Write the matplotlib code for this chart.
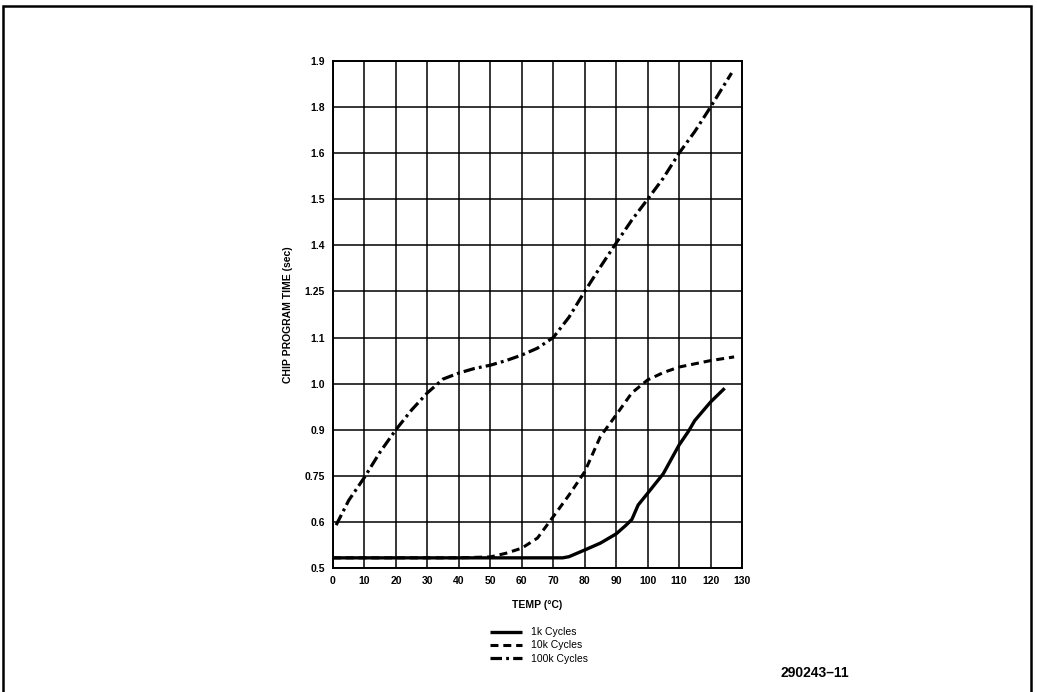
import numpy as np
import matplotlib
matplotlib.use("Agg")
import matplotlib.pyplot as plt
from matplotlib.patches import Rectangle

plt.rcParams['font.family'] = ['Liberation Sans', 'DejaVu Sans']

# y axis labels are evenly spaced, not linear
y_ticks = [0.5, 0.6, 0.75, 0.9, 1.0, 1.1, 1.25, 1.4, 1.5, 1.6, 1.8, 1.9]
x_ticks = list(range(0, 131, 10))

# 1k cycles
temp_1k = [0, 10, 20, 30, 40, 50, 60, 70, 73, 75, 80, 85, 90, 93, 95, 97, 100, 105, 110, 113, 115, 120, 124.5]
time_1k = [0.522, 0.522, 0.522, 0.522, 0.522, 0.522, 0.522, 0.522, 0.522, 0.5245, 0.539, 0.554, 0.574, 0.592,
           0.608, 0.655, 0.693, 0.757, 0.85, 0.895, 0.92, 0.96, 0.99]

# 10k cycles
temp_10k = [0, 10, 20, 30, 40, 50, 55, 60, 65, 70, 75, 80, 85, 90, 95, 100, 105, 110, 120, 127.5]
time_10k = [0.522, 0.522, 0.522, 0.522, 0.522, 0.524, 0.532, 0.543, 0.565, 0.617, 0.687, 0.763, 0.878, 0.932,
            0.98, 1.008, 1.024, 1.036, 1.05, 1.058]

# 100k cycles
temp_100k = [1, 5, 10, 15, 20, 25, 30, 35, 40, 45, 50, 55, 60, 65, 70, 75, 80, 85, 90, 95, 100, 105, 110, 115,
             120, 126.7]
time_100k = [0.593, 0.67, 0.745, 0.828, 0.9, 0.943, 0.98, 1.01, 1.023, 1.033, 1.04, 1.05, 1.062, 1.077, 1.1,
             1.166, 1.25, 1.33, 1.405, 1.455, 1.5, 1.546, 1.6, 1.694, 1.8, 1.874]

idx = np.arange(len(y_ticks))


def fwd(v):
    return np.interp(v, y_ticks, idx)


def inv(p):
    return np.interp(p, idx, y_ticks)


fig = plt.figure(figsize=(10.37, 6.92), dpi=100)
ax = fig.add_axes([0.3211, 0.1792, 0.3944, 0.7326])
ax.set_yscale('function', functions=(fwd, inv))

ax.plot(temp_1k, time_1k, color='black', lw=2.4, solid_capstyle='butt', label='1k Cycles')
ax.plot(temp_10k, time_10k, color='black', lw=2.2, linestyle=(0, (2.6, 1.6)), label='10k Cycles')
ax.plot(temp_100k, time_100k, color='black', lw=2.3, linestyle=(0, (3.6, 1.3, 0.9, 1.3)), label='100k Cycles')

ax.set_xlim(0, 130)
ax.set_ylim(0.5, 1.9)
ax.set_xticks(x_ticks)
ax.set_xticklabels([str(t) for t in x_ticks], fontsize=7.5, fontweight='bold')
ax.set_yticks(y_ticks)
ax.set_yticklabels([str(t) for t in y_ticks], fontsize=7.5, fontweight='bold')
ax.tick_params(length=0, pad=6)
ax.grid(True, color='black', lw=1.1)
for s in ax.spines.values():
    s.set_linewidth(1.4)

ax.set_xlabel('TEMP (°C)', fontsize=7.5, fontweight='bold', labelpad=10)
ax.set_ylabel('CHIP PROGRAM TIME (sec)', fontsize=7.5, fontweight='bold', labelpad=8)

fig.legend(loc='upper center', bbox_to_anchor=(0.52, 0.107), frameon=False, fontsize=7.5,
           handlelength=3.0, labelspacing=0.3, handletextpad=0.9)

fig.text(0.786, 0.028, '290243\u201311', fontsize=10, fontweight='bold', ha='center', va='center')

# page frame
fig.patches.append(Rectangle((0.003, -0.05), 0.991, 1.041, transform=fig.transFigure,
                             fill=False, edgecolor='black', lw=1.8))

fig.savefig('out.png', dpi=100)
